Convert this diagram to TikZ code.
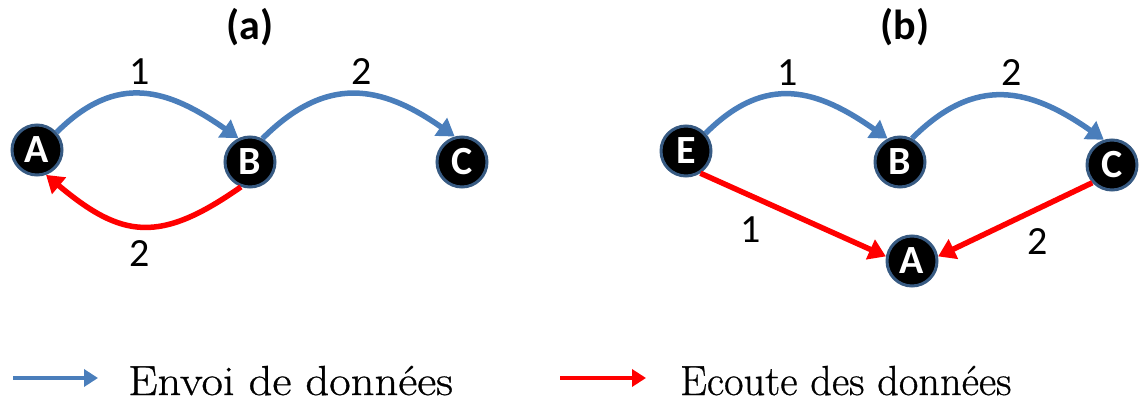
\documentclass[tikz,border=0pt]{standalone}
\usepackage{fontspec}
\usepackage{graphicx}
\setmainfont{Latin Modern Roman}
\newfontfamily\carl{Carlito}
\newfontfamily\legfont[FakeBold=0.7]{Latin Modern Roman}
\usetikzlibrary{arrows.meta}
\definecolor{sendblue}{RGB}{74,126,187}
\definecolor{listenred}{RGB}{255,0,0}
\definecolor{rimblue}{RGB}{55,90,130}
\tikzset{
  station/.style={circle,fill=black,draw=rimblue,line width=3pt,minimum size=50pt,inner sep=0pt,text=white,font=\carl\bfseries\fontsize{40}{40}\selectfont},
  sendarrow/.style={draw=sendblue,line width=5.5pt,-{Triangle[length=17pt,width=21pt]}},
  listenarrow/.style={draw=listenred,line width=5.5pt,-{Triangle[length=17pt,width=21pt]}},
  numlabel/.style={font=\carl\fontsize{40}{40}\selectfont},
  title/.style={font=\carl\bfseries\fontsize{42}{42}\selectfont},
  legendtext/.style={font=\legfont\fontsize{42}{42}\selectfont,anchor=base west,inner sep=0pt}
}
\begin{document}
\begin{tikzpicture}[x=1pt,y=-1pt]
\useasboundingbox (0,0) rectangle (1140,401);
% titles
\node[title] (ta) at (250,27) {(a)};
\node[title] (tb) at (905,27) {(b)};
% (a)
\node[station] (aA) at (37,150) {A};
\node[station] (aB) at (250,162) {B};
\node[station] (aC) at (462,162) {C};
\draw[sendarrow] (aA.42) to[out=45,in=145,looseness=1.2] (aB.116);
\draw[sendarrow] (aB.62) to[out=45,in=145,looseness=1.2] (aC.106);
\draw[listenarrow] (aB.250) to[out=215,in=-40,looseness=1.3] (aA.290);
\node[numlabel] (a1) at (140,72) {1};
\node[numlabel] (a2) at (362,72) {2};
\node[numlabel] (a3) at (140,254) {2};
% (b)
\node[station] (bE) at (686,151) {E};
\node[station] (bB) at (900,162) {B};
\node[station] (bC) at (1112,165) {C};
\node[station] (bA) at (912,261) {A};
\draw[sendarrow] (bE.42) to[out=45,in=145,looseness=1.2] (bB.118);
\draw[sendarrow] (bB.63) to[out=45,in=145,looseness=1.2] (bC.108);
\draw[listenarrow] (bE.303) -- (bA.170);
\draw[listenarrow] (bC.222) -- (bA.10);
\node[numlabel] (b1) at (788,73) {1};
\node[numlabel] (b2) at (1012,73) {2};
\node[numlabel] (b3) at (751,230) {1};
\node[numlabel] (b4) at (1038,242) {2};
% legend
\coordinate (l1s) at (13,378);
\coordinate (l1e) at (98,378);
\coordinate (l2s) at (560,378);
\coordinate (l2e) at (646,378);
\draw[sendarrow,line width=4.5pt,-{Triangle[length=14pt,width=17pt]}] (l1s) -- (l1e);
\draw[listenarrow,line width=4.5pt,-{Triangle[length=14pt,width=17pt]}] (l2s) -- (l2e);
\node[legendtext] (lt1) at (128,395) {\scalebox{1.11}[1]{Envoi de données}};
\node[legendtext] (lt2) at (680,395) {\scalebox{1.01}[1]{Ecoute des données}};
\end{tikzpicture}
\end{document}
